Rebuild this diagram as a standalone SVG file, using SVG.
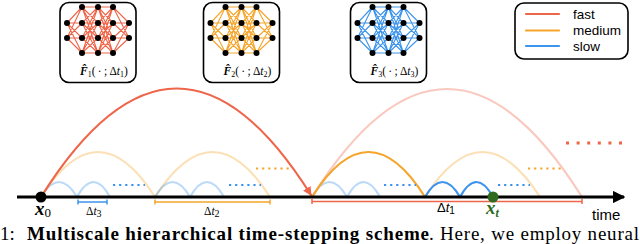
<svg xmlns="http://www.w3.org/2000/svg" width="640" height="244" viewBox="0 0 640 244">
<style>
.box{fill:#fff;stroke:#000;stroke-width:1.6}
.nodes circle{fill:#000}
.edges{fill:none;stroke-width:1.1}
.lbl{font-family:"Liberation Serif","DejaVu Serif",serif;font-size:11.5px;fill:#000}
.sans{font-family:"Liberation Sans",Arial,sans-serif;fill:#000}
.arc{fill:none;stroke-width:2.2;stroke-linecap:round}
.red{stroke:#EF6549}.org{stroke:#F5A52B}.blu{stroke:#3D94EC}
.light{stroke-opacity:0.35}
.dots{fill:none;stroke-width:2.2;stroke-dasharray:2.2 3.9}
.cap{font-family:"Liberation Serif","DejaVu Serif",serif;font-size:19px;fill:#000}
</style>
<defs>
<g id="net">
<path class="edges" d="M7 20L22 4M7 20L22 20M7 20L22 35M7 20L22 50M7 35L22 4M7 35L22 20M7 35L22 35M7 35L22 50
M22 4L38 4M22 4L38 20M22 4L38 35M22 4L38 50M22 20L38 4M22 20L38 20M22 20L38 35M22 20L38 50M22 35L38 4M22 35L38 20M22 35L38 35M22 35L38 50M22 50L38 4M22 50L38 20M22 50L38 35M22 50L38 50
M38 4L53 4M38 4L53 20M38 4L53 35M38 4L53 50M38 20L53 4M38 20L53 20M38 20L53 35M38 20L53 50M38 35L53 4M38 35L53 20M38 35L53 35M38 35L53 50M38 50L53 4M38 50L53 20M38 50L53 35M38 50L53 50
M53 4L69 20M53 20L69 20M53 35L69 20M53 50L69 20M53 4L69 35M53 20L69 35M53 35L69 35M53 50L69 35" stroke="currentColor"/>
<g class="nodes">
<circle cx="7" cy="20" r="3"/><circle cx="7" cy="35" r="3"/>
<circle cx="22" cy="4" r="3"/><circle cx="22" cy="20" r="3"/><circle cx="22" cy="35" r="3"/><circle cx="22" cy="50" r="3"/>
<circle cx="38" cy="4" r="3"/><circle cx="38" cy="20" r="3"/><circle cx="38" cy="35" r="3"/><circle cx="38" cy="50" r="3"/>
<circle cx="53" cy="4" r="3"/><circle cx="53" cy="20" r="3"/><circle cx="53" cy="35" r="3"/><circle cx="53" cy="50" r="3"/>
<circle cx="69" cy="20" r="3"/><circle cx="69" cy="35" r="3"/>
</g>
</g>
<marker id="ah" viewBox="0 0 10 10" refX="9" refY="5" markerWidth="4" markerHeight="4" orient="auto" markerUnits="strokeWidth">
<path d="M0 0L10 5L0 10z" fill="#EF6549"/>
</marker>
<marker id="axh" viewBox="0 0 10 10" refX="9" refY="5" markerWidth="4.5" markerHeight="4.5" orient="auto" markerUnits="strokeWidth">
<path d="M0 0L10 5L0 10z" fill="#000"/>
</marker>
</defs>

<!-- network boxes -->
<g id="net1">
<rect class="box" x="60" y="2.5" width="76" height="80" rx="9"/>
<use href="#net" x="60" y="3" style="color:#EF6549"/>
<text class="lbl" x="80" y="75"><tspan font-weight="bold" font-style="italic">F̂</tspan><tspan font-size="8" dy="2">1</tspan><tspan dy="-2">(&#8201;·&#8201;;&#8201;Δ</tspan><tspan font-style="italic">t</tspan><tspan font-size="8" dy="2">1</tspan><tspan dy="-2">)</tspan></text>
</g>
<g id="net2">
<rect class="box" x="203.5" y="2.5" width="76" height="80" rx="9"/>
<use href="#net" x="203.5" y="3" style="color:#F5A52B"/>
<text class="lbl" x="223.5" y="75"><tspan font-weight="bold" font-style="italic">F̂</tspan><tspan font-size="8" dy="2">2</tspan><tspan dy="-2">(&#8201;·&#8201;;&#8201;Δ</tspan><tspan font-style="italic">t</tspan><tspan font-size="8" dy="2">2</tspan><tspan dy="-2">)</tspan></text>
</g>
<g id="net3">
<rect class="box" x="350.5" y="2.5" width="76" height="80" rx="9"/>
<use href="#net" x="350.5" y="3" style="color:#3D94EC"/>
<text class="lbl" x="370.5" y="75"><tspan font-weight="bold" font-style="italic">F̂</tspan><tspan font-size="8" dy="2">3</tspan><tspan dy="-2">(&#8201;·&#8201;;&#8201;Δ</tspan><tspan font-style="italic">t</tspan><tspan font-size="8" dy="2">3</tspan><tspan dy="-2">)</tspan></text>
</g>

<!-- legend -->
<g id="legend">
<rect class="box" x="515" y="3" width="113" height="56" rx="9"/>
<line x1="526" y1="14" x2="559" y2="14" class="arc red"/>
<line x1="526" y1="30.5" x2="559" y2="30.5" class="arc org"/>
<line x1="526" y1="46" x2="559" y2="46" class="arc blu"/>
<text class="sans" font-size="13.5" x="573" y="18.5">fast</text>
<text class="sans" font-size="13.5" x="573" y="35">medium</text>
<text class="sans" font-size="13.5" x="573" y="50.5">slow</text>
</g>

<!-- connectors -->
<g id="connectors">
<path class="arc red light" d="M312 197Q447 -19 582 197"/>
<path class="arc org light" d="M41 197Q98 107 155 197"/>
<path class="arc org light" d="M155 197Q212.5 107 270 197"/>
<path class="arc org light" d="M425 197Q482.5 107 540 197"/>
<path class="arc blu light" d="M41 197Q59 167 77 197"/>
<path class="arc blu light" d="M77 197Q93.5 167 110 197"/>
<path class="arc blu light" d="M155 197Q172.5 167 190 197"/>
<path class="arc blu light" d="M190 197Q207 167 224 197"/>
<path class="arc blu light" d="M312 197Q329.5 167 347 197"/>
<path class="arc blu light" d="M347 197Q363.5 167 380 197"/>
<path class="arc org" d="M312 197Q368.5 107 425 197"/>
<path class="arc blu" d="M425 197Q442.5 167 460 197"/>
<path class="arc blu" d="M460 197Q476.5 167 493 197"/>
<path class="arc red" d="M41 197Q176.5 -19 311 195" marker-end="url(#ah)"/>
<line class="dots blu" x1="113" y1="185" x2="145" y2="185"/>
<line class="dots blu" x1="229" y1="185" x2="261" y2="185"/>
<line class="dots blu" x1="384" y1="185" x2="416" y2="185"/>
<line class="dots blu" x1="498" y1="185" x2="530" y2="185"/>
<line class="dots org" x1="256" y1="168.5" x2="292" y2="168.5"/>
<line class="dots org" x1="528" y1="168.5" x2="564" y2="168.5"/>
<line class="red" x1="566" y1="143" x2="622" y2="143" stroke-width="3" stroke-dasharray="3 7.6"/>
<line x1="17" y1="197" x2="624" y2="197" stroke="#000" stroke-width="2.8" marker-end="url(#axh)"/>
<path d="M78 202H107M78 199.5V204.5M107 199.5V204.5" stroke="#3D94EC" stroke-width="1.5" fill="none"/>
<path d="M155 202H270M155 199.5V204.5M270 199.5V204.5" stroke="#F5A52B" stroke-width="1.5" fill="none"/>
<path d="M312 201.5H582M312 199V204M582 199V204" stroke="#EF6549" stroke-width="1.5" fill="none"/>
</g>

<g id="x0">
<circle cx="41" cy="197" r="5.5" fill="#000"/>
<text class="cap" x="35" y="215" font-size="19"><tspan font-weight="bold" font-style="italic">x</tspan><tspan font-size="13" dy="2">0</tspan></text>
</g>
<g id="xt">
<circle cx="493" cy="197" r="5.5" fill="#2E6B1F"/>
<text class="cap" x="486" y="214" font-size="19" style="fill:#2E6B1F"><tspan font-weight="bold" font-style="italic">x</tspan><tspan font-size="12" font-weight="bold" font-style="italic" dy="3">t</tspan></text>
</g>

<text class="lbl" x="86" y="215" font-size="14">Δ<tspan font-style="italic">t</tspan><tspan font-size="10" dy="2">3</tspan></text>
<text class="lbl" x="204" y="215" font-size="14">Δ<tspan font-style="italic">t</tspan><tspan font-size="10" dy="2">2</tspan></text>
<text class="sans" x="437" y="212" font-size="13">Δ<tspan font-style="italic">t</tspan><tspan font-size="10" dy="2">1</tspan></text>
<text class="sans" x="592" y="220" font-size="15">time</text>

<text class="cap" x="0" y="240">1:</text>
<text class="cap" x="27" y="240" font-weight="bold" textLength="402" lengthAdjust="spacing">Multiscale hierarchical time-stepping scheme</text>
<text class="cap" x="429" y="240" textLength="210" lengthAdjust="spacing">. Here, we employ neural</text>
</svg>
